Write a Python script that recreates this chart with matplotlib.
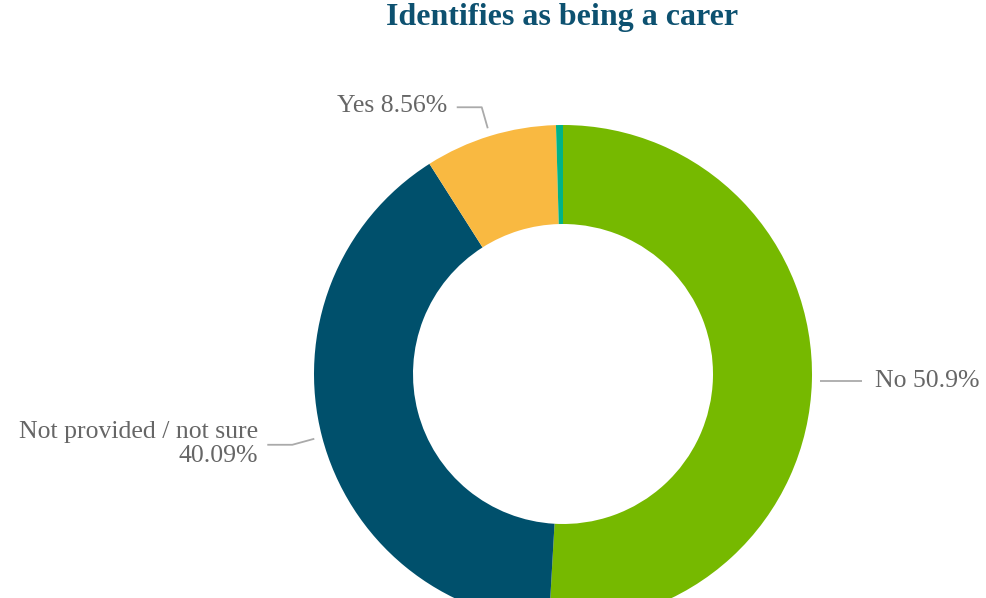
import numpy as np
import matplotlib
matplotlib.use("Agg")
import matplotlib.pyplot as plt

labels = ["No", "Not provided / not sure", "Yes", "Other"]
values = [50.9, 40.09, 8.56, 0.45]
colors = ["#76b900", "#00506c", "#f9b941", "#00b388"]
label_text = ["No 50.9%", "Not provided / not sure\n40.09%", "Yes 8.56%", None]

W, H = 986, 598
cx, cy = 563, H - 374
R, ring = 249, 99

plt.rcParams['font.family'] = ['Liberation Serif', 'DejaVu Serif']

fig = plt.figure(figsize=(W / 100, H / 100), dpi=100)
ax = fig.add_axes([0, 0, 1, 1])

wedges, _ = ax.pie(values, colors=colors, startangle=90, counterclock=False,
                   center=(cx, cy), radius=R,
                   wedgeprops=dict(width=ring, linewidth=0))
ax.set_xlim(0, W)
ax.set_ylim(0, H)
ax.set_aspect('equal')
ax.axis('off')

# leader lines: start just outside the ring at the wedge's mid angle,
# elbow, then a short horizontal run to the text
# (elbow dx, elbow dy, horizontal length, text side)
leaders = {
    0: (0, 0, 42, 'left'),
    1: (-22, -6, -25, 'right'),
    2: (-6, 21, -25, 'right'),
}
gray_line = "#aaaaaa"
gray_text = "#666666"
for i, (dx, dy, run, side) in leaders.items():
    w = wedges[i]
    mid = np.deg2rad((w.theta1 + w.theta2) / 2)
    x0 = cx + (R + 8) * np.cos(mid)
    y0 = cy + (R + 8) * np.sin(mid)
    x1, y1 = x0 + dx, y0 + dy
    x2 = x1 + run
    ax.plot([x0, x1, x2], [y0, y1, y1], color=gray_line, lw=1.3,
            solid_capstyle='butt')
    if side == 'left':
        ax.text(x2 + 13, y1, label_text[i], ha='left', va='center',
                fontsize=18.5, color=gray_text)
    else:
        ax.text(x2 - 9, y1 + 1, label_text[i], ha='right', va='center',
                fontsize=18.5, color=gray_text,
                linespacing=1.1, multialignment='right')

ax.text(562, H - 18, "Identifies as being a carer", ha='center', va='center',
        fontsize=23, fontweight='bold', color="#0d5170")

fig.savefig("out.png", dpi=100)
